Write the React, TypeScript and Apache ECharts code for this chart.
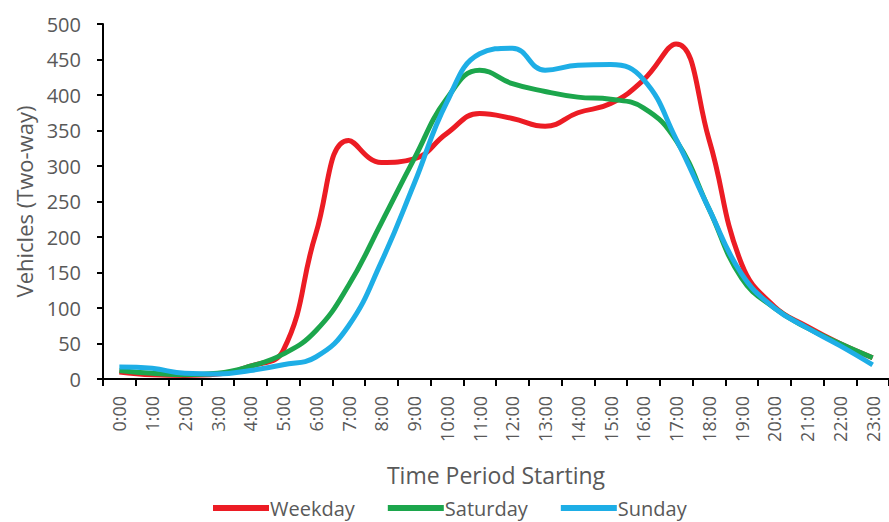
import React, { useEffect, useRef } from "react";
import * as echarts from "echarts";

const hours = [
  "0:00", "1:00", "2:00", "3:00", "4:00", "5:00", "6:00", "7:00", "8:00", "9:00", "10:00", "11:00",
  "12:00", "13:00", "14:00", "15:00", "16:00", "17:00", "18:00", "19:00", "20:00", "21:00", "22:00", "23:00",
];
const weekday = [10, 6, 5, 7, 18, 40, 205, 336, 305, 310, 346, 374, 367, 356, 375, 388, 421, 472, 338, 162, 102, 74, 50, 30];
const saturday = [12, 8, 6, 8, 18, 35, 68, 132, 220, 310, 395, 435, 416, 405, 397, 394, 382, 336, 240, 142, 100, 72, 50, 30];
const sunday = [17, 15, 8, 7, 12, 20, 31, 75, 165, 275, 390, 458, 466, 435, 442, 443, 422, 338, 240, 148, 100, 72, 47, 20];

const FONT = "Open Sans";
const GRAY = "#595959";

export default function App() {
  const ref = useRef<HTMLDivElement>(null);
  useEffect(() => {
    const chart = echarts.init(ref.current!, null, { renderer: "svg" });
    const mk = (name: string, data: number[], color: string) => ({
      name,
      type: "line",
      data,
      smooth: 0.45,
      symbol: "none",
      lineStyle: { width: 5, color },
      itemStyle: { color },
    });
    chart.setOption({
      animation: false,
      backgroundColor: "#ffffff",
      textStyle: { fontFamily: FONT },
      grid: { left: 103, top: 24, height: 355, width: 796 },
      legend: {
        bottom: -1,
        left: 208,
        icon: "rect",
        itemWidth: 56,
        itemHeight: 6,
        itemGap: 33,
        textStyle: { fontFamily: FONT, fontSize: 20, color: GRAY, padding: [0, 0, 0, -4] },
        data: ["Weekday", "Saturday", "Sunday"],
      },
      xAxis: {
        type: "category",
        data: hours,
        boundaryGap: true,
        name: "Time Period Starting",
        nameLocation: "middle",
        nameGap: 84,
        nameTextStyle: { fontFamily: FONT, fontSize: 23, color: GRAY },
        axisLine: { lineStyle: { color: "#000", width: 2 } },
        axisTick: { show: true, length: 7, lineStyle: { color: "#000", width: 2 }, alignWithLabel: false },
        axisLabel: { rotate: 90, fontFamily: FONT, fontSize: 18, color: GRAY, margin: 17, interval: 0 },
        splitLine: { show: false },
      },
      yAxis: {
        type: "value",
        min: 0,
        max: 500,
        interval: 50,
        name: "Vehicles (Two-way)",
        nameLocation: "middle",
        nameGap: 68,
        nameTextStyle: { fontFamily: FONT, fontSize: 22, color: GRAY },
        axisLine: { show: true, lineStyle: { color: "#000", width: 2 } },
        axisTick: { show: true, length: 6, lineStyle: { color: "#000", width: 2 } },
        axisLabel: { fontFamily: FONT, fontSize: 20, color: GRAY, margin: 22 },
        splitLine: { show: false },
      },
      series: [
        mk("Weekday", weekday, "#ec1c24"),
        mk("Saturday", saturday, "#1ca64c"),
        mk("Sunday", sunday, "#1eaee6"),
      ],
    });
    return () => chart.dispose();
  }, []);
  return <div ref={ref} style={{ width: 889, height: 522, position: "absolute", left: 0, top: 0 }} />;
}
